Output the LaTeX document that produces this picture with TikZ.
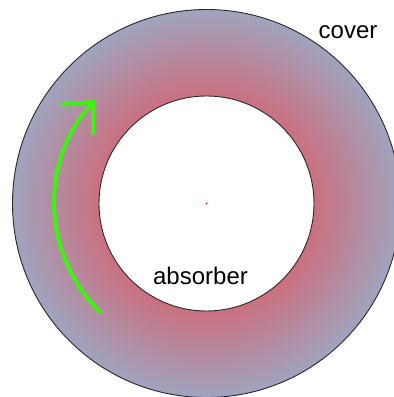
\documentclass[tikz,border=0pt]{standalone}
\usepackage{fontspec}
\setmainfont{Liberation Sans}
\usetikzlibrary{arrows.meta,calc}
\definecolor{ringred}{RGB}{202,112,128}
\definecolor{ringgray}{RGB}{160,164,190}
\definecolor{arrowgreen}{RGB}{64,242,16}
\pgfdeclareradialshading{ringshade}{\pgfpointorigin}{color(0bp)=(ringred); color(13.85bp)=(ringred); color(25bp)=(ringgray); color(50bp)=(ringgray)}
\tikzset{
  ringline/.style={draw={rgb,255:red,40;green,40;blue,40}, line width=0.9pt},
  label/.style={font=\fontsize{24}{28}\selectfont, text=black, inner sep=0pt},
  flow/.style={draw=arrowgreen, line width=4pt, -{Straight Barb[length=24pt,width=44pt]}}
}
\begin{document}
\begin{tikzpicture}[x=1pt,y=1pt]
\useasboundingbox (0,0) rectangle (394,397);
\fill[white] (0,0) rectangle (394,397);
\coordinate (c) at (206.5,193.5);
\coordinate (flowstart) at ($(c)+(226:152)$);
\begin{scope}
\clip (0,0) rectangle (394,397);
\node[circle, minimum size=388pt, inner sep=0pt, shading=ringshade, ringline] (cover) at (c) {};
\node[circle, minimum size=215pt, inner sep=0pt, fill=white, ringline] (absorber) at (c) {};
\node[circle, minimum size=2pt, inner sep=0pt, fill=red] (centre) at (c) {};
\end{scope}
\node[label, anchor=base] (coverlabel) at (348,358.7) {cover};
\node[label, anchor=base] (absorberlabel) at (200.5,112) {absorber};
\draw[flow] (flowstart) arc[start angle=226, end angle=137, radius=152];
\end{tikzpicture}
\end{document}
